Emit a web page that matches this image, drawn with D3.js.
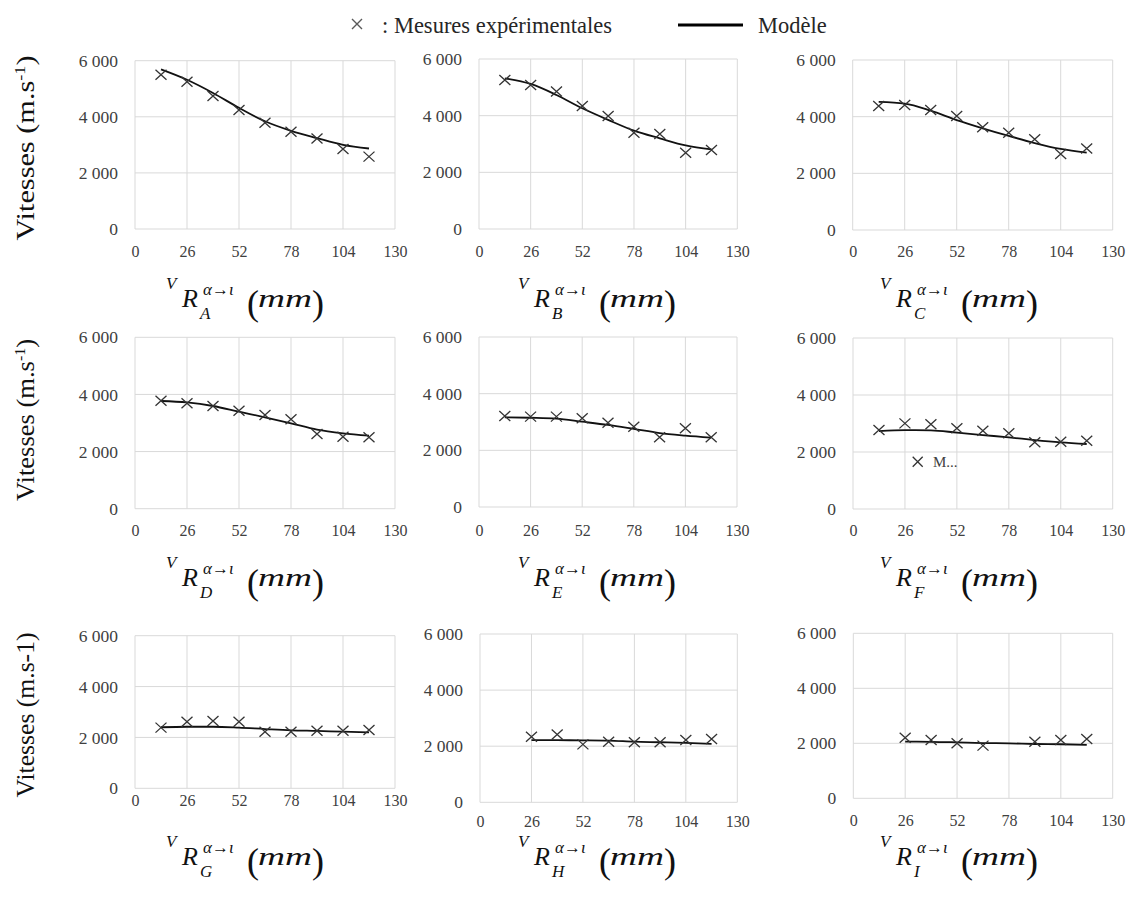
<!DOCTYPE html>
<html><head><meta charset="utf-8">
<script src="https://cdn.jsdelivr.net/npm/d3@7"></script>
<style>
body{margin:0;background:#fff}
svg{display:block}
svg text{font-family:"Liberation Serif","Times New Roman",Tinos,"DejaVu Serif",serif}
</style>
</head><body>
<svg id="c" width="1126" height="898"></svg>
<script>
// ---------- data ----------
const xValues = [13, 26, 39, 52, 65, 78, 91, 104, 117];
const xTicks = [0, 26, 52, 78, 104, 130];
const yTicks = [0, 2000, 4000, 6000];
const panelNames = ["A", "B", "C", "D", "E", "F", "G", "H", "I"];
const legendMeasures = ": Mesures expérimentales";
const legendModel = "Modèle";

const measuresA = [5500, 5250, 4740, 4240, 3790, 3470, 3230, 2850, 2580];
const modelA    = [5690, 5320, 4850, 4320, 3840, 3500, 3240, 3000, 2870];
const measuresB = [5260, 5080, 4850, 4340, 3990, 3400, 3350, 2690, 2790];
const modelB    = [5320, 5120, 4730, 4260, 3850, 3470, 3200, 2950, 2810];
const measuresC = [4380, 4410, 4235, 4020, 3625, 3435, 3200, 2680, 2880];
const modelC    = [4520, 4460, 4210, 3880, 3590, 3320, 3070, 2860, 2730];
const measuresD = [3780, 3690, 3595, 3430, 3280, 3130, 2615, 2520, 2500];
const modelD    = [3770, 3720, 3595, 3395, 3200, 2990, 2770, 2640, 2555];
const measuresE = [3210, 3190, 3190, 3130, 2975, 2835, 2460, 2780, 2460];
const modelE    = [3165, 3150, 3120, 3010, 2895, 2755, 2610, 2520, 2450];
const measuresF = [2770, 3005, 2970, 2830, 2745, 2655, 2340, 2360, 2395];
const modelF    = [2735, 2765, 2760, 2680, 2595, 2515, 2420, 2340, 2280];
const measuresG = [2385, 2620, 2645, 2620, 2225, 2225, 2265, 2265, 2295];
const modelG    = [2400, 2420, 2420, 2385, 2330, 2280, 2255, 2225, 2200];
const measuresH = [null, 2340, 2420, 2065, 2160, 2140, 2140, 2220, 2255];
const modelH    = [null, 2220, 2215, 2210, 2200, 2160, 2140, 2115, 2080];
const measuresI = [null, 2205, 2120, 2000, 1915, null, 2060, 2120, 2155];
const modelI    = [null, 2060, 2055, 2035, 2010, 2000, 1975, 1965, 1940];

const allMeasures = [measuresA, measuresB, measuresC, measuresD, measuresE, measuresF, measuresG, measuresH, measuresI];
const allModels = [modelA, modelB, modelC, modelD, modelE, modelF, modelG, modelH, modelI];

// ---------- layout ----------
const layout = [
  {x0:135, x1:395, y0:60.7, y1:229, xl:251},
  {x0:479, x1:737.3, y0:59, y1:229, xl:251},
  {x0:852.7, x1:1112.7, y0:60, y1:230, xl:251},
  {x0:135, x1:395, y0:337.3, y1:508.7, xl:530},
  {x0:479, x1:737, y0:337, y1:507, xl:530},
  {x0:853, x1:1112.7, y0:338, y1:509, xl:530},
  {x0:135, x1:395, y0:635.7, y1:788.3, xl:800},
  {x0:480, x1:737.3, y0:634, y1:802.3, xl:821},
  {x0:853.3, x1:1112.7, y0:633.3, y1:798.3, xl:820}
];
const labelColX = [166, 518, 880];
const labelRowY = [307, 586, 865];
const yTitle = [
  {cx:26, cy:148, len:185, sup:true},
  {cx:26, cy:420, len:162, sup:true},
  {cx:26, cy:715, len:165, sup:false}
];

const svg = d3.select("#c");
const fr = d3.formatLocale({decimal:",", thousands:" ", grouping:[3], currency:["",""]});
const fmt = fr.format(",");
const gridCol = "#d9d9d9", txtCol = "#404040";

// legend
const lg = svg.append("g");
lg.append("path").attr("d", "M352,19L362,29M352,29L362,19").attr("stroke", "#595959").attr("stroke-width", 1.4).attr("fill", "none");
lg.append("text").attr("x", 382).attr("y", 33).attr("font-size", 22.5).attr("fill", "#262626").text(legendMeasures);
lg.append("line").attr("x1", 678).attr("x2", 743).attr("y1", 25).attr("y2", 25).attr("stroke", "#000").attr("stroke-width", 3);
lg.append("text").attr("x", 758).attr("y", 33).attr("font-size", 22.5).attr("fill", "#262626").text(legendModel);

panelNames.forEach((name, i) => {
  const L = layout[i];
  const x = d3.scaleLinear().domain([0, 130]).range([L.x0, L.x1]);
  const y = d3.scaleLinear().domain([0, 6000]).range([L.y1, L.y0]);
  const g = svg.append("g");
  // grid
  g.selectAll(".gx").data(xTicks).join("line")
    .attr("x1", d => x(d)).attr("x2", d => x(d)).attr("y1", L.y0).attr("y2", L.y1)
    .attr("stroke", gridCol).attr("stroke-width", 1);
  g.selectAll(".gy").data(yTicks).join("line")
    .attr("y1", d => y(d)).attr("y2", d => y(d)).attr("x1", L.x0).attr("x2", L.x1)
    .attr("stroke", gridCol).attr("stroke-width", 1);
  // axes labels
  const ax = g.append("g").attr("transform", `translate(0,${L.xl})`)
    .call(d3.axisBottom(x).tickValues(xTicks).tickSize(0).tickPadding(0).tickFormat(d3.format("d")));
  ax.select(".domain").remove();
  ax.selectAll("text").attr("font-size", 16).attr("fill", txtCol).attr("dy", "0.35em");
  const ay = g.append("g").attr("transform", `translate(${L.x0 - 17},0)`)
    .call(d3.axisLeft(y).tickValues(yTicks).tickSize(0).tickPadding(0).tickFormat(fmt));
  ay.select(".domain").remove();
  ay.selectAll("text").attr("font-size", 17.5).attr("fill", txtCol);
  // model line
  const pts = xValues.map((xv, k) => [xv, allModels[i][k]]).filter(p => p[1] != null);
  g.append("path").datum(pts)
    .attr("d", d3.line().x(d => x(d[0])).y(d => y(d[1])).curve(d3.curveMonotoneX))
    .attr("fill", "none").attr("stroke", "#111").attr("stroke-width", 1.8);
  // markers
  const mp = xValues.map((xv, k) => [xv, allMeasures[i][k]]).filter(p => p[1] != null);
  g.selectAll(".m").data(mp).join("path")
    .attr("transform", d => `translate(${x(d[0])},${y(d[1])})`)
    .attr("d", "M-5.5,-5L5.5,5M-5.5,5L5.5,-5")
    .attr("stroke", "#333").attr("stroke-width", 1.3).attr("fill", "none");

  // x axis title (math-like)
  const ox = labelColX[i % 3], by = labelRowY[Math.floor(i / 3)];
  const t = g.append("g").attr("fill", "#111");
  t.append("text").attr("x", ox).attr("y", by - 18).attr("font-size", 17).attr("font-style", "italic").text("V");
  t.append("text").attr("x", ox + 16).attr("y", by).attr("font-size", 26).attr("font-style", "italic").text("R");
  t.append("text").attr("x", ox + 34).attr("y", by + 12).attr("font-size", 17).attr("font-style", "italic").text(name);
  t.append("text").attr("x", ox + 37).attr("y", by - 12).attr("font-size", 17).attr("font-style", "italic").text("α→ι");
  t.append("text").attr("x", ox + 81).attr("y", by + 8).attr("font-size", 36).text("(");
  t.append("text").attr("x", ox + 92).attr("y", by).attr("font-size", 26).attr("font-style", "italic")
    .attr("textLength", 54).attr("lengthAdjust", "spacingAndGlyphs").text("mm");
  t.append("text").attr("x", ox + 146).attr("y", by + 8).attr("font-size", 36).text(")");
});

// y axis titles
yTitle.forEach(Y => {
  const tt = svg.append("text")
    .attr("transform", `translate(${Y.cx + 8},${Y.cy}) rotate(-90)`)
    .attr("text-anchor", "middle").attr("font-size", 25).attr("fill", "#111")
    .attr("textLength", Y.len).attr("lengthAdjust", "spacingAndGlyphs");
  if (Y.sup) {
    tt.append("tspan").text("Vitesses (m.s");
    tt.append("tspan").attr("font-size", 15).attr("dy", -9).text("-1");
    tt.append("tspan").attr("dy", 9).text(")");
  } else {
    tt.text("Vitesses (m.s-1)");
  }
});

// stray legend fragment in panel F
svg.append("path").attr("d", "M912.7,456.7L922.7,466.7M912.7,466.7L922.7,456.7")
  .attr("stroke", "#333").attr("stroke-width", 1.3).attr("fill", "none");
svg.append("text").attr("x", 933).attr("y", 467).attr("font-size", 15).attr("fill", txtCol).text("M...");
</script>
</body></html>
